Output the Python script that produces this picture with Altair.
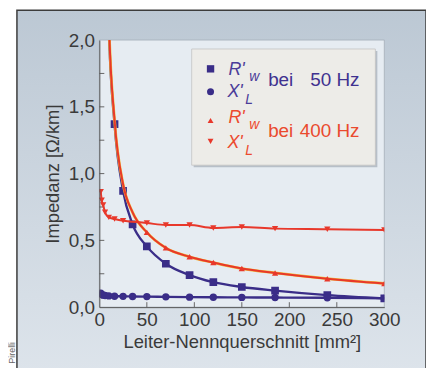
import altair as alt
import pandas as pd

# ---------------- data ----------------
sections = [1.5, 2.5, 4, 6, 10, 16, 25, 35, 50, 70, 95, 120, 150, 185, 240, 300]

r50_x = [6, 10, 16, 25, 35, 50, 70, 95, 120, 150, 185, 240, 300]
r50_y = [3.5, 2.1, 1.37, 0.87, 0.62, 0.455, 0.325, 0.24, 0.187, 0.151, 0.124, 0.09, 0.066]
r50_marks = [16, 25, 35, 50, 70, 95, 120, 150, 185, 240, 300]

x50_x = sections
x50_y = [0.104, 0.095, 0.09, 0.087, 0.084, 0.082, 0.081, 0.08, 0.079, 0.077, 0.075,
         0.074, 0.073, 0.072, 0.07, 0.066]
x50_marks = sections

r400_x = [6, 10, 16, 25, 35, 50, 70, 95, 120, 150, 185, 240, 300]
r400_y = [3.6, 2.15, 1.40, 0.92, 0.71, 0.56, 0.444, 0.377, 0.334, 0.289, 0.256, 0.213, 0.177]
r400_marks = [50, 70, 95, 120, 150, 185, 240, 300]

x400_x = sections
x400_y = [0.865, 0.80, 0.765, 0.71, 0.672, 0.66, 0.647, 0.64, 0.63, 0.615, 0.615,
          0.593, 0.60, 0.588, 0.584, 0.578]
x400_marks = [1.5, 2.5, 4, 6, 10, 16, 25, 50, 70, 95, 120, 150, 185, 240, 300]

y_ticks = [0.25, 0.5, 0.75, 1.0, 1.25, 1.5, 1.75]
x_ticks = [50, 100, 150, 200, 250]
y_labels = [0, 0.5, 1.0, 1.5, 2.0]
x_labels = [0, 50, 100, 150, 200, 250, 300]

BLUE = "#3a2d88"
RED = "#e8382b"
FONT = "Liberation Sans"
W, H = 287, 269

def series_df(xs, ys):
    return pd.DataFrame({"x": xs, "y": ys})

def marks_df(xs, ys, keep):
    return pd.DataFrame({"x": [a for a in xs if a in keep],
                         "y": [b for a, b in zip(xs, ys) if a in keep]})

xs = alt.Scale(domain=[0, 300], nice=False)
ys = alt.Scale(domain=[0, 2], nice=False)

one = pd.DataFrame({"a": [0]})

frame = alt.Chart(one).mark_rect(
    fill=alt.LinearGradient(gradient="linear",
                            stops=[alt.GradientStop(color="#bcc8d4", offset=0),
                                   alt.GradientStop(color="#dde4eb", offset=1)],
                            x1=0, x2=0, y1=0, y2=1),
    stroke="#3c3c3c", strokeWidth=1.5
).encode(x=alt.value(-83), x2=alt.value(329), y=alt.value(-30), y2=alt.value(335))

plotbg = alt.Chart(one).mark_rect(fill="#e6ecf2", stroke="#a4aeb8", strokeWidth=0.8).encode(
    x=alt.value(0), x2=alt.value(W), y=alt.value(0), y2=alt.value(H))

leg_shadow = alt.Chart(one).mark_rect(fill="#b7bfc8").encode(
    x=alt.value(95), x2=alt.value(280), y=alt.value(11), y2=alt.value(128))
leg_box = alt.Chart(one).mark_rect(fill="#edece8", stroke="#c4c4c4", strokeWidth=0.8).encode(
    x=alt.value(93), x2=alt.value(278), y=alt.value(9), y2=alt.value(126))

# axes carried by an invisible layer
axis_layer = alt.Chart(series_df(x400_x, x400_y)).mark_point(opacity=0).encode(
    x=alt.X("x:Q", scale=xs, axis=alt.Axis(
        values=x_labels, ticks=False, grid=False, domainColor="#555", domainWidth=1,
        labelFontSize=19, labelFont=FONT, labelColor="#3a3a3a", labelPadding=3,
        labelFlush=False, title="Leiter-Nennquerschnitt [mm²]", titleFont=FONT,
        titleFontSize=18.5, titleFontWeight="normal", titleColor="#3a3a3a",
        titlePadding=4, zindex=1)),
    y=alt.Y("y:Q", scale=ys, axis=alt.Axis(
        values=y_labels, ticks=False, grid=False, domainColor="#555", domainWidth=1,
        labelExpr="replace(format(datum.value, '.1f'), '.', ',')",
        labelFontSize=19, labelFont=FONT, labelColor="#3a3a3a", labelPadding=5,
        labelFlush=False, title="Impedanz [Ω/km]", titleFont=FONT,
        titleFontSize=18.5, titleFontWeight="normal", titleColor="#3a3a3a",
        titlePadding=6, zindex=1)),
)

yt = alt.Chart(pd.DataFrame({"v": y_ticks})).mark_rule(color="#666", strokeWidth=1).encode(
    y=alt.Y("v:Q", scale=ys), x=alt.value(0), x2=alt.value(5))
xt = alt.Chart(pd.DataFrame({"v": x_ticks})).mark_rule(color="#666", strokeWidth=1).encode(
    x=alt.X("v:Q", scale=xs), y=alt.value(H), y2=alt.value(H - 5))

def line(xs_, ys_, color, width=2.2):
    return alt.Chart(series_df(xs_, ys_)).mark_line(
        color=color, strokeWidth=width, interpolate="monotone", clip=True).encode(
        x=alt.X("x:Q", scale=xs), y=alt.Y("y:Q", scale=ys))

def pts(xs_, ys_, keep, color, shape, size):
    return alt.Chart(marks_df(xs_, ys_, keep)).mark_point(
        color=color, filled=True, opacity=1, shape=shape, size=size, clip=True).encode(
        x=alt.X("x:Q", scale=xs), y=alt.Y("y:Q", scale=ys))

data_layers = [
    line(x50_x, x50_y, BLUE, 2.4),
    line(r50_x, r50_y, BLUE, 2.4),
    pts(x50_x, x50_y, x50_marks, BLUE, "circle", 55),
    pts(r50_x, r50_y, r50_marks, BLUE, "square", 60),
    line(r400_x, r400_y, "#f2bd3a", 2.8),
    line(r400_x, r400_y, RED, 2.0),
    line(x400_x, x400_y, RED, 2.0),
    pts(r400_x, r400_y, r400_marks, RED, "triangle-up", 40),
    pts(x400_x, x400_y, x400_marks, RED, "triangle-down", 40),
]

def txt(s, x, y, color, size=19, italic=False, align="left"):
    return alt.Chart(one).mark_text(
        text=s, color=color, fontSize=size, font=FONT, align=align, baseline="alphabetic",
        fontStyle="italic" if italic else "normal").encode(x=alt.value(x), y=alt.value(y))

def sym(shape, x, y, color, size):
    return alt.Chart(one).mark_point(shape=shape, filled=True, opacity=1, color=color,
                                     size=size).encode(x=alt.value(x), y=alt.value(y))

legend = [
    sym("square", 112, 29, BLUE, 55),
    txt("R'", 130, 35, "#4b3c99", 18, True),
    txt("w", 151, 41, "#4b3c99", 14, True),
    txt("bei", 170, 46, "#3f3290"),
    txt("50 Hz", 262, 46, "#3f3290", align="right"),
    sym("circle", 112, 52, BLUE, 50),
    txt("X'", 129, 57, "#4b3c99", 18, True),
    txt("L", 147, 64, "#4b3c99", 14, True),
    sym("triangle-up", 112, 81, RED, 35),
    txt("R'", 130, 84, "#ec4a2e", 18, True),
    txt("w", 151, 90, "#ec4a2e", 14, True),
    txt("bei", 170, 98, "#ea4a2e"),
    txt("400 Hz", 262, 98, "#ea4a2e", align="right"),
    sym("triangle-down", 112, 102, RED, 35),
    txt("X'", 129, 109, "#ec4a2e", 18, True),
    txt("L", 147, 116, "#ec4a2e", 14, True),
]

pirelli = alt.Chart(one).mark_text(
    text="Pirelli", angle=270, align="left", baseline="alphabetic", fontSize=9,
    font=FONT, color="#666").encode(x=alt.value(-84.5), y=alt.value(326))

chart = alt.layer(
    frame, plotbg, leg_shadow, leg_box, axis_layer, yt, xt, *data_layers, *legend, pirelli
).properties(
    width=W, height=H, autosize="none",
    padding={"left": 92, "top": 31, "right": 42, "bottom": 60},
    background="white",
).configure_view(stroke=None)

chart.save("out.html", embed_options={"renderer": "svg", "actions": False})
